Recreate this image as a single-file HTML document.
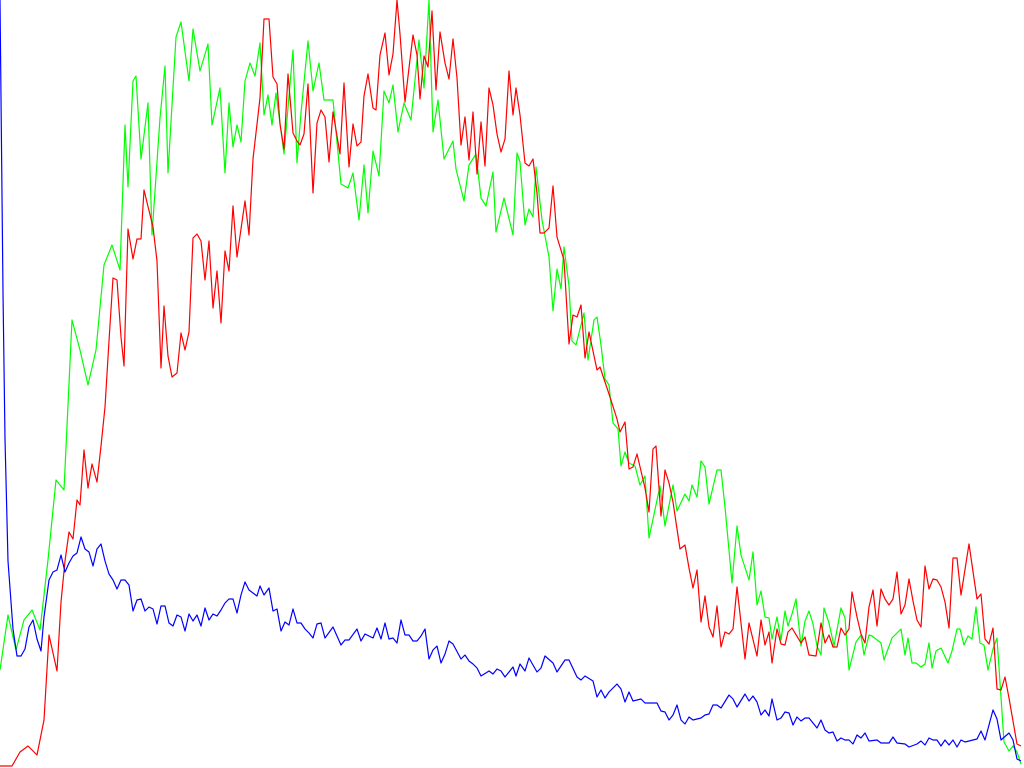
<!DOCTYPE html>
<html><head><meta charset="utf-8"><title>RGB Histogram</title>
<style>html,body{margin:0;padding:0;background:#fff;overflow:hidden}svg{display:block}</style>
</head><body>
<svg id="chart" width="1024" height="768" viewBox="0 0 1024 768" xmlns="http://www.w3.org/2000/svg">
<rect x="0" y="0" width="1024" height="768" fill="#fff"/>
</svg>
<script>
const greenLevels=[0,2,4,6,8,10,12,14,16,18,20,22,24,26,28,30,31.25,32,33.25,34,35.25,37,38,40,41.25,42,44,45.25,47.25,48.25,50,52,53,55,56.25,57.25,58.25,59.25,60.25,61.25,62.5,63.75,65,66,67,68,69,71,73.25,74.25,75.25,77,78.25,79.75,81,83.25,85.25,87,88.25,89.75,91,92,93.25,94.75,96,97.25,98.25,99.5,101,102.75,104.75,106,107.25,108.25,109.5,111,113.25,114,116,117.25,119,120.25,121.5,123.25,124,126,128.25,129.25,130,131.25,132.25,133.25,134,135.5,137.25,138.25,139.25,140.25,141,142.25,143,144,146,147,148.5,149.25,150.25,151.25,152.25,153.25,154.5,155.25,156.25,157.25,158.75,160,161.25,162.25,165,166.25,168.25,169.25,171.25,172.25,173,174.25,175.25,176.25,177.25,179.25,180.25,181.25,183,184.25,185.25,187.25,188.25,189.25,190.25,191.25,192.25,193,194.25,195.25,196.25,197,198,199,200.25,201.25,202.25,203.25,204.25,205.25,206,207.25,208.5,210.25,211.25,212.25,214,215.25,216,217.25,218,220.25,221,223,224.25,225.25,226.25,227,228,229,230.25,231.25,232.25,233,234,235.25,237,238,239.25,240,241,242,243,244,245,246,247,248.25,249.25,251,252.25,253.25,254.25,255.25];
const greenCounts=[98,153,118,148,158,138,208,288,278,448,418,383,418,503,523,498,643,581,687,692,609,665,533,650,702,595,731,746,687,739,697,724,643,680,595,665,621,643,626,687,705,692,725,653,673,643,675,614,718,605,655,727,677,705,668,668,584,580,595,548,603,555,617,592,677,665,683,636,665,648,728,680,768,636,668,609,627,599,567,603,614,570,562,596,536,570,533,615,606,543,559,551,601,548,511,457,499,479,521,482,427,423,455,408,448,451,423,389,383,345,339,302,316,305,302,283,292,230,282,242,283,257,274,267,283,271,307,301,264,298,298,261,185,242,213,188,216,163,177,151,150,129,151,128,157,142,154,169,122,147,157,144,122,113,160,145,122,160,150,98,126,133,113,133,132,125,108,130,135,139,113,130,105,105,101,104,125,100,117,120,105,117,139,139,123,132,129,161,125,123,98,119,130,26,17,22,16,4];
const redLevels=[0,3,5,7,9.25,11,12.25,14.25,15.25,16.25,17.25,18.25,19.25,20,21,22,23,24.25,25.25,26.25,27.25,28.25,29.25,30.25,31,32,33.25,34.25,35.25,36,38.25,39.25,40.25,41,42,43,44.25,45.25,46.25,47.25,48.25,49.25,50.25,51.25,52.25,53.25,54.25,55.25,56.25,57.25,58.25,59.25,61.25,62.25,63.25,65,66,67.25,68.25,69.25,70,71,72,73.25,74.25,75,76,77,78.25,79.25,80.25,81.25,82.25,83.25,85,86,87.25,88.25,89.25,90.25,91,92,93.25,94,95,96.25,97.25,98.25,99.25,100,101.25,102.25,103.25,104.25,105,106,107,108,109,110,111.25,112.25,113.25,114.25,115.25,116.25,117.25,118.25,119.25,120.25,121.25,122.25,123.25,124.25,125.25,126.25,127.25,128.25,129,130,131.25,132.25,133.25,134.25,135,136,137.25,138.25,139.25,141,142.25,143.25,144.25,145.25,146.25,147.25,149.25,150,152.25,154.25,155,156.25,157.25,158.25,159.25,161.25,162.25,163.25,164,165.25,166.25,167.25,168.25,169.25,170,171.25,172.25,173.25,174.25,175.25,176.25,177.25,178.25,179.25,180.25,181.25,182.25,183.25,184.25,186.25,187.25,189.25,190.25,191.25,192.25,193,194.25,195.25,196.25,197,198,200.25,201.25,202.25,204,205.25,206.25,207.25,208.25,209.25,210.25,211.25,212.25,213,214.25,215.25,216.25,217.25,218.25,219.25,220.25,221.25,222.25,223.25,224.25,225.25,226.25,227.25,228.25,229.25,230.25,231.25,232.25,233.25,234.25,235.25,236.25,237.25,238.25,239.25,240.25,242.25,244.25,245.25,246.25,247.25,248.25,249.25,250.25,251.25,252.25,254.25,255.25];
const redCounts=[2,2,16,22,13,48,133,97,166,207,236,229,268,263,318,280,304,286,322,361,427,490,488,431,402,539,509,529,529,578,541,507,400,462,412,391,395,435,418,436,530,534,527,488,527,460,497,445,517,497,562,511,567,533,609,670,749,749,691,684,644,619,694,635,627,623,634,684,575,645,658,651,606,656,614,685,601,644,622,626,672,694,660,658,713,735,693,714,768,734,666,700,733,713,669,712,701,757,678,736,705,689,729,690,623,651,608,656,594,646,602,680,663,634,616,629,697,653,680,653,605,602,609,575,535,535,540,582,531,508,424,453,451,463,410,436,398,401,374,349,336,346,299,301,314,280,256,319,322,252,298,285,266,239,219,223,200,180,198,146,172,141,131,162,121,136,134,139,181,109,145,112,148,123,136,105,139,124,123,136,140,125,131,113,112,145,125,133,121,121,140,133,139,176,151,134,125,161,178,142,179,169,163,169,196,154,163,189,167,148,141,202,179,189,188,181,166,140,210,210,173,224,169,174,129,124,140,79,78,91,70,24,22];
const blueLevels=[0,0.75,1.25,2,3.25,4.25,5.25,6.25,7.25,8.25,9.25,10.25,11,12.25,13.25,14.25,15.25,16.25,17.25,18.25,19.25,20.25,21.25,22.25,23.25,24.25,25.25,26.25,27.25,28.25,29.25,30.25,31.25,32.25,33.25,34.25,35.25,36.25,37.25,38.25,39.25,40.25,41.25,42.25,43.25,44.25,45.25,46.25,47.25,48.25,49.25,50.25,51.25,52.25,53.25,54.25,55.25,56.25,57.25,58.25,59.25,60.25,61.25,62.25,64.25,65,66,67.25,68.25,69.25,70.25,71.25,72.25,73.25,74.25,75.25,76.25,77.25,78.25,79.25,80.25,81.25,83.25,85.25,86.25,87.25,89.25,90.25,91.25,93.25,94.25,95.25,96.25,97.25,98.25,99.25,100.25,101.25,102.25,103.25,104.25,105.25,106.25,107.25,108.25,109.25,110.25,111.25,112.25,113.25,115.25,116.25,117.25,118.25,119.25,120.25,122.25,123.25,124.25,125.25,126.25,128.25,129,130,131.25,132.25,134.25,135.25,136.25,138.25,139.25,141.25,142.25,144.25,145.25,146.25,148.25,149.25,150.25,151.25,152.25,154.25,155.25,156.25,157.25,158.25,160.25,161.25,164.25,165.25,166.25,167.25,168.25,169.25,170.25,171.25,172.25,173.25,175.25,176.25,177.25,178.25,179.25,180.25,182.25,183.25,184.25,186.25,187.25,188.25,189.25,190.25,191.25,192.25,193,194.25,195.25,196.25,197.25,198.25,199.25,200.25,201.25,202.25,204.25,205.25,206.25,207.25,208.25,209.25,210.25,211.25,212.25,213.25,214.25,215.25,216.25,217.25,219.25,220.25,222.25,223.25,224.25,226.25,227.25,229.25,230.25,231.25,232.25,233.25,234.25,235.25,236.25,237.25,238.25,239.25,240.25,241.25,243.25,244.25,245.25,246.25,248.25,249.25,250.25,252.25,253.25,254.25,255.25];
const blueCounts=[768,475,329,207,139,112,112,119,141,148,129,117,151,188,196,198,213,196,205,212,215,231,219,216,202,219,224,207,194,188,179,188,188,183,157,168,169,157,161,159,144,162,162,145,142,153,151,137,154,147,153,142,160,148,154,152,158,165,169,169,155,173,186,178,172,182,173,180,157,159,137,146,143,159,145,145,139,135,130,144,145,130,141,123,128,128,139,127,134,130,140,129,145,129,130,125,148,133,133,127,127,132,139,109,118,122,105,114,127,124,109,113,107,104,100,92,97,94,99,97,91,101,92,104,97,110,96,100,112,105,96,108,108,91,88,92,87,71,78,70,76,84,79,66,76,67,69,65,65,57,56,48,53,63,48,44,51,48,50,53,54,63,63,60,73,69,61,74,67,72,66,53,58,52,69,48,50,56,55,43,51,47,50,50,40,48,38,35,36,27,30,28,28,24,33,30,35,27,28,25,25,31,25,24,21,24,27,23,30,28,28,22,28,23,28,21,28,26,28,29,37,28,58,49,28,35,28,9,7];

const W=1024,H=768,MAXLEVEL=256,MAXCOUNT=768;
function xAxis(level){return level*W/MAXLEVEL;}
function yAxis(count){return H-count*H/MAXCOUNT;}
const svg=document.getElementById('chart');
const NS='http://www.w3.org/2000/svg';
function drawSeries(levels,counts,color,name){
  const pts=levels.map((l,i)=>xAxis(l).toFixed(2)+','+yAxis(counts[i]).toFixed(2)).join(' ');
  const pl=document.createElementNS(NS,'polyline');
  pl.setAttribute('points',pts);
  pl.setAttribute('fill','none');
  pl.setAttribute('stroke',color);
  pl.setAttribute('stroke-width','1.2');
  pl.setAttribute('stroke-linejoin','round');
  
  
  svg.appendChild(pl);
}
drawSeries(greenLevels,greenCounts,'#00ff00','green-channel-line');
drawSeries(redLevels,redCounts,'#ff0000','red-channel-line');
drawSeries(blueLevels,blueCounts,'#0000ff','blue-channel-line');
</script>
</body></html>
